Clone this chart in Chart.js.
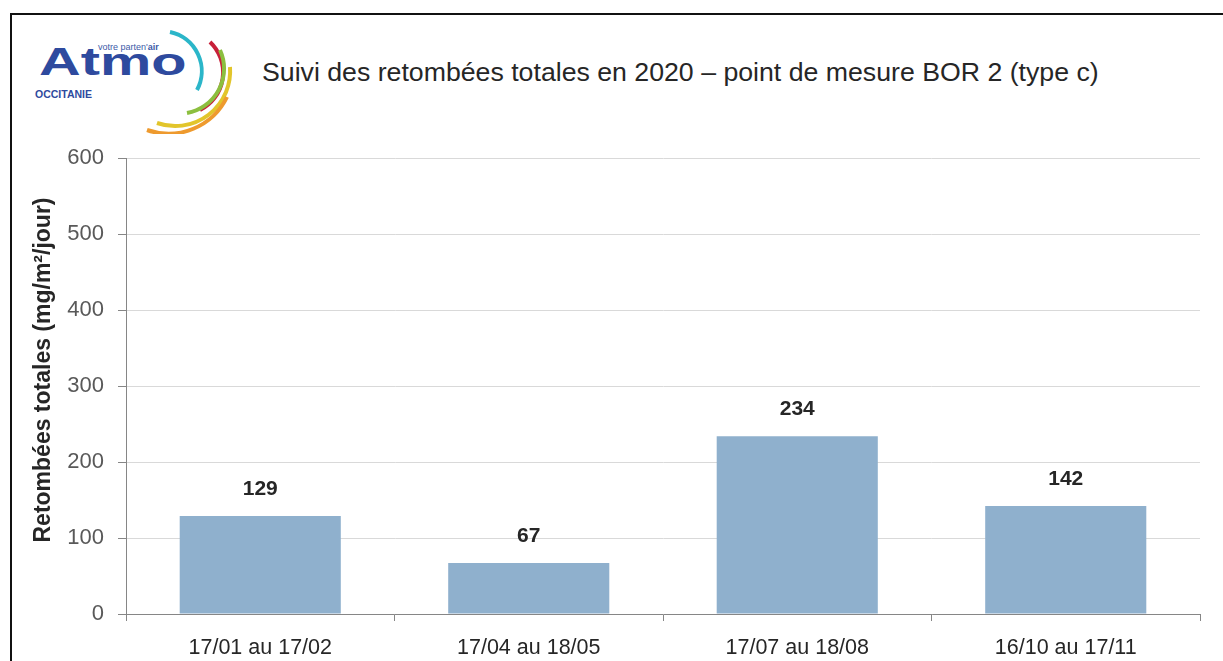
<!DOCTYPE html>
<html>
<head>
<meta charset="utf-8">
<script src="https://cdn.jsdelivr.net/npm/chart.js@4"></script>
<style>
  body { margin: 0; background: #fff; font-family: "Liberation Sans", Arial, sans-serif; overflow: hidden; }
  #frame { position: absolute; left: 10px; top: 13px; width: 1230px; height: 700px; border: 2px solid #111; box-sizing: border-box; }
  #title { position: absolute; left: 262px; top: 57px; font-size: 26.7px; color: #262626; white-space: nowrap; }
  #logo { position: absolute; left: 22px; top: 22px; width: 220px; height: 112px; }
  #wrap { position: absolute; left: 0; top: 0; width: 1223px; height: 661px; }
</style>
</head>
<body>
<div id="frame"></div>
<svg id="logo" viewBox="0 0 220 112">
  <text x="11.5" y="53" font-family="Liberation Sans, Arial" font-weight="bold" font-size="39" fill="#2e4a9e" transform="scale(1.48 1)">Atmo</text>
  <text x="76" y="28" font-family="Liberation Sans, Arial" font-size="9" fill="#3d5aa8">votre parten'<tspan font-weight="bold">air</tspan></text>
  <text x="13" y="76" font-family="Liberation Sans, Arial" font-weight="bold" font-size="10.5" fill="#2e4a9e">OCCITANIE</text>
  <path d="M148 10 A40 40 0 0 1 175 68" stroke="#2bb6c9" stroke-width="4" fill="none"/>
  <path d="M188 20 A42 42 0 0 1 178 88" stroke="#c8203a" stroke-width="4" fill="none"/>
  <path d="M198 28 A45 45 0 0 1 165 91" stroke="#8cbf3f" stroke-width="4" fill="none"/>
  <path d="M208 45 A55 55 0 0 1 135 101" stroke="#e2c52b" stroke-width="4" fill="none"/>
  <path d="M205 75 A65 65 0 0 1 125 108" stroke="#ee9a2e" stroke-width="4" fill="none"/>
</svg>
<div id="title">Suivi des retombées totales en 2020 – point de mesure BOR 2 (type c)</div>
<div id="wrap"><canvas id="chart"></canvas></div>
<script>
const categories = ['17/01 au 17/02', '17/04 au 18/05', '17/07 au 18/08', '16/10 au 17/11'];
const retombees = [129, 67, 234, 142];
const yTicks = [0, 100, 200, 300, 400, 500, 600];
const yTitle = 'Retombées totales (mg/m²/jour)';

// etiquettes de valeur au-dessus des barres + titre de l'axe Y
const valueLabels = {
    id: 'valueLabels',
    afterDatasetsDraw(chart) {
        const ctx = chart.ctx;
        const meta = chart.getDatasetMeta(0);
        ctx.save();
        ctx.font = 'bold 21px "Liberation Sans", Arial, sans-serif';
        ctx.fillStyle = '#262626';
        ctx.textAlign = 'center';
        ctx.textBaseline = 'middle';
        meta.data.forEach((bar, i) => {
            ctx.fillText(String(retombees[i]), bar.x, bar.y - 27);
        });
        // titre vertical
        ctx.translate(44, chart.chartArea.top + 212);
        ctx.rotate(-Math.PI / 2);
        ctx.font = 'bold 23px "Liberation Sans", Arial, sans-serif';
        ctx.fillText(yTitle, 0, 0);
        ctx.restore();
    }
};

new Chart(document.getElementById('chart'), {
    type: 'bar',
    data: {
        labels: categories,
        datasets: [{
            data: retombees,
            backgroundColor: '#8fb0cd',
            borderWidth: 0,
            categoryPercentage: 0.6,
            barPercentage: 1
        }]
    },
    options: {
        responsive: true,
        maintainAspectRatio: false,
        animation: false,
        layout: { padding: { left: 20, top: 158, right: 23, bottom: 0 } },
        plugins: { legend: { display: false }, tooltip: { enabled: false } },
        scales: {
            x: {
                afterFit: (scale) => { scale.height = 47; },
                grid: { drawOnChartArea: false, drawTicks: true, tickLength: 7, tickColor: '#868686', offset: true },
                border: { color: '#868686', width: 1 },
                ticks: { color: '#262626', padding: 14, font: { size: 21.5, family: '"Liberation Sans", Arial, sans-serif' } }
            },
            y: {
                min: 0,
                max: 600,
                afterBuildTicks: (scale) => { scale.ticks = yTicks.map(v => ({ value: v })); },
                afterFit: (scale) => { scale.width = 106; },
                grid: { color: '#d9d9d9', tickColor: '#868686', tickLength: 8 },
                border: { color: '#868686', width: 1 },
                ticks: { color: '#595959', padding: 14, font: { size: 22, family: '"Liberation Sans", Arial, sans-serif' } }
            }
        }
    },
    plugins: [valueLabels]
});
</script>
</body>
</html>
